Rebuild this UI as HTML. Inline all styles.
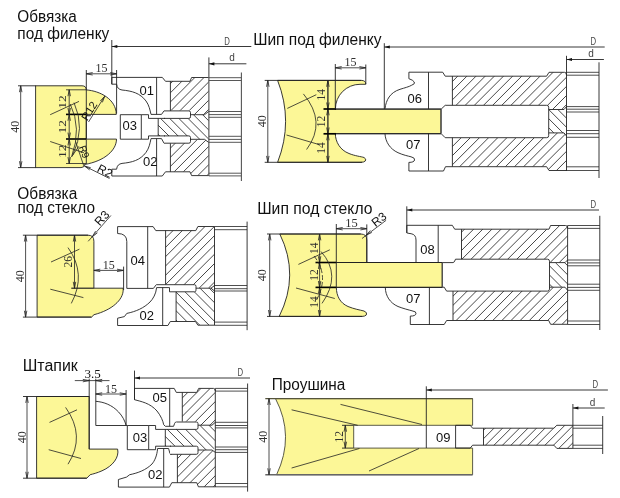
<!DOCTYPE html>
<html lang="ru">
<head>
<meta charset="utf-8">
<title>Комплект фрез</title>
<style>
html,body{margin:0;padding:0;background:#fff;}
body{width:620px;height:498px;overflow:hidden;font-family:"Liberation Sans",sans-serif;}
svg{display:block;will-change:transform;}
</style>
</head>
<body>
<svg width="620" height="498" viewBox="0 0 620 498">
<defs>
</defs>
<rect x="0" y="0" width="620" height="498" fill="#fff"/>
<text x="17.3" y="21.6" font-family="&quot;Liberation Sans&quot;, sans-serif" font-size="15.6" text-anchor="start" fill="#111" textLength="59.5" lengthAdjust="spacingAndGlyphs">Обвязка</text>
<text x="17.3" y="38.8" font-family="&quot;Liberation Sans&quot;, sans-serif" font-size="15.6" text-anchor="start" fill="#111" textLength="92" lengthAdjust="spacingAndGlyphs">под филенку</text>
<text x="253.2" y="45.2" font-family="&quot;Liberation Sans&quot;, sans-serif" font-size="15.6" text-anchor="start" fill="#111" textLength="128.3" lengthAdjust="spacingAndGlyphs">Шип под филенку</text>
<text x="17.3" y="199.4" font-family="&quot;Liberation Sans&quot;, sans-serif" font-size="15.6" text-anchor="start" fill="#111" textLength="60" lengthAdjust="spacingAndGlyphs">Обвязка</text>
<text x="17.4" y="213" font-family="&quot;Liberation Sans&quot;, sans-serif" font-size="15.6" text-anchor="start" fill="#111" textLength="77.6" lengthAdjust="spacingAndGlyphs">под стекло</text>
<text x="257.2" y="213.8" font-family="&quot;Liberation Sans&quot;, sans-serif" font-size="15.6" text-anchor="start" fill="#111" textLength="115.3" lengthAdjust="spacingAndGlyphs">Шип под стекло</text>
<text x="22.7" y="371.3" font-family="&quot;Liberation Sans&quot;, sans-serif" font-size="15.6" text-anchor="start" fill="#111" textLength="55.1" lengthAdjust="spacingAndGlyphs">Штапик</text>
<text x="271.7" y="390.3" font-family="&quot;Liberation Sans&quot;, sans-serif" font-size="15.6" text-anchor="start" fill="#111" textLength="73.7" lengthAdjust="spacingAndGlyphs">Проушина</text>
<path d="M35.6,85.8 H82 Q86.3,85.8 86.3,89.9 C100,91 116,99 116.3,114.4 H86.3 V139.1 H116.5 C116.5,150 105,161 84.5,164.5 Q84.5,167.6 81,167.6 H35.6 Z" fill="#fcf797" stroke="#222" stroke-width="0.9" />
<line x1="18" y1="85.8" x2="36" y2="85.8" stroke="#222" stroke-width="0.9"/>
<line x1="18" y1="167.6" x2="36" y2="167.6" stroke="#222" stroke-width="0.9"/>
<line x1="20.7" y1="85.8" x2="20.7" y2="167.6" stroke="#222" stroke-width="0.8"/>
<line x1="20.7" y1="85.8" x2="21.94" y2="92.18" stroke="#222" stroke-width="0.8"/>
<line x1="20.7" y1="85.8" x2="19.46" y2="92.18" stroke="#222" stroke-width="0.8"/>
<line x1="20.7" y1="167.6" x2="19.46" y2="161.22" stroke="#222" stroke-width="0.8"/>
<line x1="20.7" y1="167.6" x2="21.94" y2="161.22" stroke="#222" stroke-width="0.8"/>
<text x="19.3" y="126.69999999999999" font-family="&quot;Liberation Serif&quot;, serif" font-size="12" text-anchor="middle" fill="#303030" transform="rotate(-90 19.3 126.69999999999999)" >40</text>
<line x1="86.3" y1="70" x2="86.3" y2="164" stroke="#222" stroke-width="0.9"/>
<line x1="66" y1="89.8" x2="86" y2="89.8" stroke="#222" stroke-width="0.8"/>
<line x1="66" y1="114.4" x2="86" y2="114.4" stroke="#000" stroke-width="1.6"/>
<line x1="66" y1="139" x2="86" y2="139" stroke="#000" stroke-width="1.6"/>
<line x1="66" y1="163.5" x2="86" y2="163.5" stroke="#222" stroke-width="0.8"/>
<line x1="69.2" y1="89.8" x2="69.2" y2="114.4" stroke="#222" stroke-width="0.8"/>
<line x1="69.2" y1="89.8" x2="70.44" y2="96.18" stroke="#222" stroke-width="0.8"/>
<line x1="69.2" y1="89.8" x2="67.96" y2="96.18" stroke="#222" stroke-width="0.8"/>
<line x1="69.2" y1="114.4" x2="67.96" y2="108.02" stroke="#222" stroke-width="0.8"/>
<line x1="69.2" y1="114.4" x2="70.44" y2="108.02" stroke="#222" stroke-width="0.8"/>
<text x="66.3" y="102.1" font-family="&quot;Liberation Serif&quot;, serif" font-size="10.5" text-anchor="middle" fill="#303030" transform="rotate(-90 66.3 102.1)" textLength="13.5" lengthAdjust="spacingAndGlyphs">12</text>
<line x1="69.2" y1="114.4" x2="69.2" y2="139" stroke="#222" stroke-width="0.8"/>
<line x1="69.2" y1="114.4" x2="70.44" y2="120.78" stroke="#222" stroke-width="0.8"/>
<line x1="69.2" y1="114.4" x2="67.96" y2="120.78" stroke="#222" stroke-width="0.8"/>
<line x1="69.2" y1="139" x2="67.96" y2="132.62" stroke="#222" stroke-width="0.8"/>
<line x1="69.2" y1="139" x2="70.44" y2="132.62" stroke="#222" stroke-width="0.8"/>
<text x="66.3" y="126.7" font-family="&quot;Liberation Serif&quot;, serif" font-size="10.5" text-anchor="middle" fill="#303030" transform="rotate(-90 66.3 126.7)" textLength="13.5" lengthAdjust="spacingAndGlyphs">12</text>
<line x1="69.2" y1="139" x2="69.2" y2="163.5" stroke="#222" stroke-width="0.8"/>
<line x1="69.2" y1="139" x2="70.44" y2="145.38" stroke="#222" stroke-width="0.8"/>
<line x1="69.2" y1="139" x2="67.96" y2="145.38" stroke="#222" stroke-width="0.8"/>
<line x1="69.2" y1="163.5" x2="67.96" y2="157.12" stroke="#222" stroke-width="0.8"/>
<line x1="69.2" y1="163.5" x2="70.44" y2="157.12" stroke="#222" stroke-width="0.8"/>
<text x="66.3" y="151.25" font-family="&quot;Liberation Serif&quot;, serif" font-size="10.5" text-anchor="middle" fill="#303030" transform="rotate(-90 66.3 151.25)" textLength="13.5" lengthAdjust="spacingAndGlyphs">12</text>
<line x1="50.2" y1="114.7" x2="79" y2="101.4" stroke="#222" stroke-width="0.8"/>
<line x1="50.2" y1="141.5" x2="84" y2="152.8" stroke="#222" stroke-width="0.8"/>
<path d="M74,102.6 Q85.6,128 72.7,155.3" fill="none" stroke="#222" stroke-width="0.8" />
<path d="M70.2,104 Q82,128 71.6,156.8" fill="none" stroke="#222" stroke-width="0.8" />
<line x1="88.5" y1="122" x2="104.7" y2="96.3" stroke="#222" stroke-width="0.8"/>
<line x1="104.7" y1="96.3" x2="102.35" y2="102.36" stroke="#222" stroke-width="0.8"/>
<line x1="104.7" y1="96.3" x2="100.25" y2="101.04" stroke="#222" stroke-width="0.8"/>
<text x="92.5" y="113" font-family="&quot;Liberation Sans&quot;, sans-serif" font-size="11" text-anchor="middle" fill="#111" transform="rotate(-58 92.5 113)" >R12</text>
<line x1="83.7" y1="165.6" x2="75.6" y2="141.5" stroke="#222" stroke-width="0.8"/>
<line x1="71.6" y1="156.8" x2="78.9" y2="146.3" stroke="#222" stroke-width="0.8"/>
<text x="81" y="153" font-family="&quot;Liberation Sans&quot;, sans-serif" font-size="10" text-anchor="middle" fill="#111" transform="rotate(70 81 153)" >R9</text>
<line x1="84.5" y1="166" x2="109.5" y2="178.5" stroke="#222" stroke-width="0.8"/>
<line x1="84.5" y1="166" x2="90.76" y2="167.74" stroke="#222" stroke-width="0.8"/>
<line x1="84.5" y1="166" x2="89.66" y2="169.96" stroke="#222" stroke-width="0.8"/>
<text x="103" y="174.5" font-family="&quot;Liberation Sans&quot;, sans-serif" font-size="12" text-anchor="middle" fill="#111" transform="rotate(28 103 174.5)" >R2</text>
<line x1="116.6" y1="70" x2="116.6" y2="113.5" stroke="#222" stroke-width="0.9"/>
<line x1="86.3" y1="73.8" x2="116.6" y2="73.8" stroke="#222" stroke-width="0.8"/>
<line x1="86.3" y1="73.8" x2="92.68" y2="72.56" stroke="#222" stroke-width="0.8"/>
<line x1="86.3" y1="73.8" x2="92.68" y2="75.04" stroke="#222" stroke-width="0.8"/>
<line x1="116.6" y1="73.8" x2="110.22" y2="75.04" stroke="#222" stroke-width="0.8"/>
<line x1="116.6" y1="73.8" x2="110.22" y2="72.56" stroke="#222" stroke-width="0.8"/>
<text x="101.44999999999999" y="71.6" font-family="&quot;Liberation Serif&quot;, serif" font-size="12" text-anchor="middle" fill="#303030" >15</text>
<line x1="111.8" y1="40" x2="111.8" y2="84.2" stroke="#222" stroke-width="0.9"/>
<line x1="111.8" y1="46.5" x2="251.3" y2="46.5" stroke="#222" stroke-width="0.9"/>
<polygon points="111.8,46.5 117.3,44.9 117.3,48.1" fill="#111" stroke="none" stroke-width="0.9"/>
<text x="227" y="45" font-family="&quot;Liberation Sans&quot;, sans-serif" font-size="10" text-anchor="middle" fill="#444" textLength="5.6" lengthAdjust="spacingAndGlyphs">D</text>
<clipPath id="c1"><polygon points="170.4,81.3 190,81.3 191.6,77.5 208.5,77.5 208.5,111.6 204.5,114.7 190,114.7 190,110.6 170.4,110.6"/></clipPath>
<g clip-path="url(#c1)" stroke="#262626" stroke-width="0.85">
<line x1="139.35" y1="114.7" x2="176.55" y2="77.5"/>
<line x1="148.5" y1="114.7" x2="185.7" y2="77.5"/>
<line x1="157.65" y1="114.7" x2="194.85" y2="77.5"/>
<line x1="166.8" y1="114.7" x2="204.0" y2="77.5"/>
<line x1="175.95" y1="114.7" x2="213.15" y2="77.5"/>
<line x1="185.1" y1="114.7" x2="222.3" y2="77.5"/>
<line x1="194.25" y1="114.7" x2="231.45" y2="77.5"/>
<line x1="203.4" y1="114.7" x2="240.6" y2="77.5"/>
<line x1="212.55" y1="114.7" x2="249.75" y2="77.5"/>
</g>
<clipPath id="c2"><polygon points="158.2,118.4 190,118.4 190,114.7 204.5,114.7 208.5,113 208.5,141 204.5,139.5 190,139.5 190,135.9 158.2,135.9"/></clipPath>
<g clip-path="url(#c2)" stroke="#262626" stroke-width="0.85">
<line x1="127.7" y1="113" x2="155.7" y2="141"/>
<line x1="136.85" y1="113" x2="164.85" y2="141"/>
<line x1="146.0" y1="113" x2="174.0" y2="141"/>
<line x1="155.15" y1="113" x2="183.15" y2="141"/>
<line x1="164.3" y1="113" x2="192.3" y2="141"/>
<line x1="173.45" y1="113" x2="201.45" y2="141"/>
<line x1="182.6" y1="113" x2="210.6" y2="141"/>
<line x1="191.75" y1="113" x2="219.75" y2="141"/>
<line x1="200.9" y1="113" x2="228.9" y2="141"/>
<line x1="210.05" y1="113" x2="238.05" y2="141"/>
</g>
<clipPath id="c3"><polygon points="170.4,143 190,143 190,139.5 204.5,139.5 208.5,142.3 208.5,175.5 191.6,175.5 190,171.6 170.4,171.6"/></clipPath>
<g clip-path="url(#c3)" stroke="#262626" stroke-width="0.85">
<line x1="133.85" y1="175.5" x2="169.85" y2="139.5"/>
<line x1="143.0" y1="175.5" x2="179.0" y2="139.5"/>
<line x1="152.15" y1="175.5" x2="188.15" y2="139.5"/>
<line x1="161.3" y1="175.5" x2="197.3" y2="139.5"/>
<line x1="170.45" y1="175.5" x2="206.45" y2="139.5"/>
<line x1="179.6" y1="175.5" x2="215.6" y2="139.5"/>
<line x1="188.75" y1="175.5" x2="224.75" y2="139.5"/>
<line x1="197.9" y1="175.5" x2="233.9" y2="139.5"/>
<line x1="207.05" y1="175.5" x2="243.05" y2="139.5"/>
<line x1="216.2" y1="175.5" x2="252.2" y2="139.5"/>
</g>
<path d="M111.8,84.2 V77.4 H162.3 L165.5,81.3 H190 L191.6,77.5 H208.5" fill="none" stroke="#222" stroke-width="0.9" />
<path d="M111.8,84.2 H116.6 C117,88 119,89.5 122,90 C132,91 140,93 146,101 C149,105 150,110 151,114.4 H161.5 L164,110.9" fill="none" stroke="#222" stroke-width="0.9" />
<line x1="156.6" y1="77.4" x2="156.6" y2="114.4" stroke="#222" stroke-width="0.9"/>
<line x1="170.4" y1="81.3" x2="170.4" y2="110.9" stroke="#222" stroke-width="0.9"/>
<path d="M111.8,169.2 V176 H162.3 L165.5,171.8 H190 L191.6,175.6 H208.5" fill="none" stroke="#222" stroke-width="0.9" />
<path d="M111.8,169.2 H116.6 C117,165.4 119,163.9 122,163.4 C132,162.4 140,160.4 146,152.4 C149,148.4 150,143.4 151,138.6 H161.5 L164,143.2" fill="none" stroke="#222" stroke-width="0.9" />
<line x1="156.6" y1="138.6" x2="156.6" y2="176" stroke="#222" stroke-width="0.9"/>
<line x1="170.4" y1="143.2" x2="170.4" y2="171.8" stroke="#222" stroke-width="0.9"/>
<path d="M164,110.9 H188.9 Q190.5,110.9 190.5,112.5 V116.80000000000001 Q190.5,118.4 188.9,118.4 H164" fill="#fff" stroke="#222" stroke-width="0.9" />
<path d="M164,135.9 H188.9 Q190.5,135.9 190.5,137.5 V141.6 Q190.5,143.2 188.9,143.2 H164" fill="#fff" stroke="#222" stroke-width="0.9" />
<path d="M120.3,114.7 H141.3 V139.2 H120.3 Z" fill="none" stroke="#222" stroke-width="0.9" />
<path d="M141.3,114.7 H148.5 V118.4 H165" fill="none" stroke="#222" stroke-width="0.9" />
<path d="M141.3,139.2 H148.5 V135.9 H165" fill="none" stroke="#222" stroke-width="0.9" />
<line x1="158.2" y1="118.4" x2="158.2" y2="135.9" stroke="#222" stroke-width="0.9"/>
<line x1="190.5" y1="114.7" x2="204.5" y2="114.7" stroke="#222" stroke-width="0.9"/>
<line x1="204.5" y1="114.7" x2="208.5" y2="111.6" stroke="#222" stroke-width="0.9"/>
<line x1="190.5" y1="139.3" x2="204.5" y2="139.3" stroke="#222" stroke-width="0.9"/>
<line x1="204.5" y1="139.3" x2="208.5" y2="142.3" stroke="#222" stroke-width="0.9"/>
<line x1="208.9" y1="57.4" x2="208.9" y2="176" stroke="#222" stroke-width="0.9"/>
<line x1="208.9" y1="77.7" x2="241.4" y2="77.7" stroke="#444" stroke-width="0.9"/>
<line x1="208.9" y1="80.5" x2="241.4" y2="80.5" stroke="#444" stroke-width="0.9"/>
<line x1="208.9" y1="111.5" x2="241.4" y2="111.5" stroke="#444" stroke-width="0.9"/>
<line x1="208.9" y1="114.6" x2="241.4" y2="114.6" stroke="#444" stroke-width="0.9"/>
<line x1="208.9" y1="117.3" x2="241.4" y2="117.3" stroke="#444" stroke-width="0.9"/>
<line x1="208.9" y1="136.3" x2="241.4" y2="136.3" stroke="#444" stroke-width="0.9"/>
<line x1="208.9" y1="139.4" x2="241.4" y2="139.4" stroke="#444" stroke-width="0.9"/>
<line x1="208.9" y1="142.3" x2="241.4" y2="142.3" stroke="#444" stroke-width="0.9"/>
<line x1="208.9" y1="173.2" x2="241.4" y2="173.2" stroke="#444" stroke-width="0.9"/>
<line x1="208.9" y1="175.9" x2="241.4" y2="175.9" stroke="#444" stroke-width="0.9"/>
<line x1="241.4" y1="72.6" x2="241.4" y2="181" stroke="#555" stroke-width="1.1"/>
<line x1="208.9" y1="63.8" x2="246.4" y2="63.8" stroke="#222" stroke-width="0.9"/>
<polygon points="208.9,63.8 214.4,62.2 214.4,65.4" fill="#111" stroke="none" stroke-width="0.9"/>
<text x="232" y="60.8" font-family="&quot;Liberation Sans&quot;, sans-serif" font-size="10" text-anchor="middle" fill="#444" >d</text>
<text x="139.5" y="94.8" font-family="&quot;Liberation Sans&quot;, sans-serif" font-size="13" text-anchor="start" fill="#111" >01</text>
<text x="122.5" y="130.3" font-family="&quot;Liberation Sans&quot;, sans-serif" font-size="13" text-anchor="start" fill="#111" >03</text>
<text x="143" y="166" font-family="&quot;Liberation Sans&quot;, sans-serif" font-size="13" text-anchor="start" fill="#111" >02</text>
<path d="M277.6,80.4 H361.3 Q365.8,80.4 365.8,84.3 H360 A24.6,24.6 0 0 0 335.4,108.9 V109.2 H441.1 V133.6 H335.3 C335.5,142 340,150 349,153.5 C355,156 361,156.5 364,157.5 Q366.8,159 365.3,161 Q364,162.3 361,162.3 H277.6 Q293.6,121.3 277.6,80.4 Z" fill="#fcf797" stroke="#222" stroke-width="0.9" />
<line x1="264.7" y1="80.4" x2="361.3" y2="80.4" stroke="#222" stroke-width="0.9"/>
<line x1="264.7" y1="162.3" x2="362" y2="162.3" stroke="#222" stroke-width="0.9"/>
<line x1="267.8" y1="80.4" x2="267.8" y2="162.3" stroke="#222" stroke-width="0.8"/>
<line x1="267.8" y1="80.4" x2="269.04" y2="86.78" stroke="#222" stroke-width="0.8"/>
<line x1="267.8" y1="80.4" x2="266.56" y2="86.78" stroke="#222" stroke-width="0.8"/>
<line x1="267.8" y1="162.3" x2="266.56" y2="155.92" stroke="#222" stroke-width="0.8"/>
<line x1="267.8" y1="162.3" x2="269.04" y2="155.92" stroke="#222" stroke-width="0.8"/>
<text x="266.5" y="121.35000000000001" font-family="&quot;Liberation Serif&quot;, serif" font-size="12" text-anchor="middle" fill="#303030" transform="rotate(-90 266.5 121.35000000000001)" >40</text>
<line x1="327.9" y1="80.4" x2="327.9" y2="162.3" stroke="#222" stroke-width="0.8"/>
<line x1="327.9" y1="80.4" x2="327.9" y2="108.9" stroke="#222" stroke-width="0.8"/>
<line x1="327.9" y1="80.4" x2="329.14" y2="86.78" stroke="#222" stroke-width="0.8"/>
<line x1="327.9" y1="80.4" x2="326.66" y2="86.78" stroke="#222" stroke-width="0.8"/>
<line x1="327.9" y1="108.9" x2="326.66" y2="102.52" stroke="#222" stroke-width="0.8"/>
<line x1="327.9" y1="108.9" x2="329.14" y2="102.52" stroke="#222" stroke-width="0.8"/>
<text x="325" y="94.65" font-family="&quot;Liberation Serif&quot;, serif" font-size="11.5" text-anchor="middle" fill="#303030" transform="rotate(-90 325 94.65)" >14</text>
<line x1="327.9" y1="108.9" x2="327.9" y2="133.9" stroke="#222" stroke-width="0.8"/>
<line x1="327.9" y1="108.9" x2="329.14" y2="115.28" stroke="#222" stroke-width="0.8"/>
<line x1="327.9" y1="108.9" x2="326.66" y2="115.28" stroke="#222" stroke-width="0.8"/>
<line x1="327.9" y1="133.9" x2="326.66" y2="127.52" stroke="#222" stroke-width="0.8"/>
<line x1="327.9" y1="133.9" x2="329.14" y2="127.52" stroke="#222" stroke-width="0.8"/>
<text x="325" y="121.4" font-family="&quot;Liberation Serif&quot;, serif" font-size="11.5" text-anchor="middle" fill="#303030" transform="rotate(-90 325 121.4)" >12</text>
<line x1="327.9" y1="133.9" x2="327.9" y2="162.3" stroke="#222" stroke-width="0.8"/>
<line x1="327.9" y1="133.9" x2="329.14" y2="140.28" stroke="#222" stroke-width="0.8"/>
<line x1="327.9" y1="133.9" x2="326.66" y2="140.28" stroke="#222" stroke-width="0.8"/>
<line x1="327.9" y1="162.3" x2="326.66" y2="155.92" stroke="#222" stroke-width="0.8"/>
<line x1="327.9" y1="162.3" x2="329.14" y2="155.92" stroke="#222" stroke-width="0.8"/>
<text x="325" y="148.10000000000002" font-family="&quot;Liberation Serif&quot;, serif" font-size="11.5" text-anchor="middle" fill="#303030" transform="rotate(-90 325 148.10000000000002)" >14</text>
<line x1="335" y1="109" x2="441.1" y2="109" stroke="#222" stroke-width="1.0"/>
<line x1="323.5" y1="109" x2="336" y2="109" stroke="#000" stroke-width="1.7"/>
<line x1="335" y1="133.8" x2="441.1" y2="133.8" stroke="#222" stroke-width="1.0"/>
<line x1="323.5" y1="133.8" x2="336" y2="133.8" stroke="#000" stroke-width="1.7"/>
<line x1="335.3" y1="64" x2="335.3" y2="108.9" stroke="#222" stroke-width="0.9"/>
<line x1="365.8" y1="64.5" x2="365.8" y2="84" stroke="#222" stroke-width="0.9"/>
<line x1="335.3" y1="67.8" x2="365.8" y2="67.8" stroke="#222" stroke-width="0.8"/>
<line x1="335.3" y1="67.8" x2="341.68" y2="66.56" stroke="#222" stroke-width="0.8"/>
<line x1="335.3" y1="67.8" x2="341.68" y2="69.04" stroke="#222" stroke-width="0.8"/>
<line x1="365.8" y1="67.8" x2="359.42" y2="69.04" stroke="#222" stroke-width="0.8"/>
<line x1="365.8" y1="67.8" x2="359.42" y2="66.56" stroke="#222" stroke-width="0.8"/>
<text x="350.55" y="66" font-family="&quot;Liberation Serif&quot;, serif" font-size="12" text-anchor="middle" fill="#303030" >15</text>
<line x1="287.3" y1="108.4" x2="316.3" y2="94.7" stroke="#222" stroke-width="0.8"/>
<line x1="286.5" y1="135" x2="319.5" y2="144.7" stroke="#222" stroke-width="0.8"/>
<path d="M303.4,93.9 Q327,122 306.6,149.5" fill="none" stroke="#222" stroke-width="0.8" />
<line x1="384.3" y1="43.2" x2="384.3" y2="109" stroke="#222" stroke-width="0.9"/>
<line x1="384.3" y1="47" x2="604.7" y2="47" stroke="#222" stroke-width="0.9"/>
<polygon points="384.3,47 389.8,45.4 389.8,48.6" fill="#111" stroke="none" stroke-width="0.9"/>
<text x="593.4" y="44.5" font-family="&quot;Liberation Sans&quot;, sans-serif" font-size="10" text-anchor="middle" fill="#444" textLength="5.6" lengthAdjust="spacingAndGlyphs">D</text>
<clipPath id="c4"><polygon points="452.4,76.2 546.6,76.2 549,72.3 566.5,72.3 566.5,106.6 564,109.5 548.7,109.5 548.7,105.3 452.4,105.3"/></clipPath>
<g clip-path="url(#c4)" stroke="#262626" stroke-width="0.85">
<line x1="415.25" y1="109.5" x2="452.45" y2="72.3"/>
<line x1="424.4" y1="109.5" x2="461.6" y2="72.3"/>
<line x1="433.55" y1="109.5" x2="470.75" y2="72.3"/>
<line x1="442.7" y1="109.5" x2="479.9" y2="72.3"/>
<line x1="451.85" y1="109.5" x2="489.05" y2="72.3"/>
<line x1="461.0" y1="109.5" x2="498.2" y2="72.3"/>
<line x1="470.15" y1="109.5" x2="507.35" y2="72.3"/>
<line x1="479.3" y1="109.5" x2="516.5" y2="72.3"/>
<line x1="488.45" y1="109.5" x2="525.65" y2="72.3"/>
<line x1="497.6" y1="109.5" x2="534.8" y2="72.3"/>
<line x1="506.75" y1="109.5" x2="543.95" y2="72.3"/>
<line x1="515.9" y1="109.5" x2="553.1" y2="72.3"/>
<line x1="525.05" y1="109.5" x2="562.25" y2="72.3"/>
<line x1="534.2" y1="109.5" x2="571.4" y2="72.3"/>
<line x1="543.35" y1="109.5" x2="580.55" y2="72.3"/>
<line x1="552.5" y1="109.5" x2="589.7" y2="72.3"/>
<line x1="561.65" y1="109.5" x2="598.85" y2="72.3"/>
<line x1="570.8" y1="109.5" x2="608.0" y2="72.3"/>
</g>
<clipPath id="c5"><polygon points="548.7,109.5 564,109.5 566.5,111 566.5,131.5 564,132.9 548.7,132.9"/></clipPath>
<g clip-path="url(#c5)" stroke="#262626" stroke-width="0.85">
<line x1="521.25" y1="109.5" x2="544.65" y2="132.9"/>
<line x1="530.4" y1="109.5" x2="553.8" y2="132.9"/>
<line x1="539.55" y1="109.5" x2="562.95" y2="132.9"/>
<line x1="548.7" y1="109.5" x2="572.1" y2="132.9"/>
<line x1="557.85" y1="109.5" x2="581.25" y2="132.9"/>
<line x1="567.0" y1="109.5" x2="590.4" y2="132.9"/>
</g>
<clipPath id="c6"><polygon points="452.4,137.7 548.7,137.7 548.7,132.9 564,132.9 566.5,136 566.5,170.5 549,170.5 546.6,166.6 452.4,166.6"/></clipPath>
<g clip-path="url(#c6)" stroke="#262626" stroke-width="0.85">
<line x1="410.05" y1="170.5" x2="447.65" y2="132.9"/>
<line x1="419.2" y1="170.5" x2="456.8" y2="132.9"/>
<line x1="428.35" y1="170.5" x2="465.95" y2="132.9"/>
<line x1="437.5" y1="170.5" x2="475.1" y2="132.9"/>
<line x1="446.65" y1="170.5" x2="484.25" y2="132.9"/>
<line x1="455.8" y1="170.5" x2="493.4" y2="132.9"/>
<line x1="464.95" y1="170.5" x2="502.55" y2="132.9"/>
<line x1="474.1" y1="170.5" x2="511.7" y2="132.9"/>
<line x1="483.25" y1="170.5" x2="520.85" y2="132.9"/>
<line x1="492.4" y1="170.5" x2="530.0" y2="132.9"/>
<line x1="501.55" y1="170.5" x2="539.15" y2="132.9"/>
<line x1="510.7" y1="170.5" x2="548.3" y2="132.9"/>
<line x1="519.85" y1="170.5" x2="557.45" y2="132.9"/>
<line x1="529.0" y1="170.5" x2="566.6" y2="132.9"/>
<line x1="538.15" y1="170.5" x2="575.75" y2="132.9"/>
<line x1="547.3" y1="170.5" x2="584.9" y2="132.9"/>
<line x1="556.45" y1="170.5" x2="594.05" y2="132.9"/>
<line x1="565.6" y1="170.5" x2="603.2" y2="132.9"/>
<line x1="574.75" y1="170.5" x2="612.35" y2="132.9"/>
</g>
<path d="M385,108.8 C386,100 390,92.5 400,89.3 C405,87.8 409,86.7 411.3,85.4 Q415.5,84 414.3,82 Q413,80 408.9,78.7 V72.2 H442.7 L445.2,76.2 H546.6 L549,72.3 H564.5 Q566.5,72.3 566.5,75" fill="none" stroke="#222" stroke-width="0.9" />
<line x1="428.5" y1="72.2" x2="428.5" y2="109" stroke="#222" stroke-width="0.9"/>
<path d="M441.1,109.2 L445.2,105.3 H546.7 Q548.7,105.3 548.7,107.3 V135.7 Q548.7,137.7 546.7,137.7 H445.2 L441.1,133.6 Z" fill="#fff" stroke="#222" stroke-width="0.9" />
<line x1="441.1" y1="109.2" x2="441.1" y2="133.6" stroke="#555" stroke-width="0.9"/>
<line x1="452.4" y1="76.2" x2="452.4" y2="105.3" stroke="#222" stroke-width="0.9"/>
<line x1="452.4" y1="137.7" x2="452.4" y2="166.6" stroke="#222" stroke-width="0.9"/>
<line x1="548.7" y1="109.5" x2="564" y2="109.5" stroke="#222" stroke-width="0.9"/>
<line x1="564" y1="109.5" x2="566.5" y2="106.6" stroke="#222" stroke-width="0.9"/>
<line x1="548.7" y1="132.9" x2="564" y2="132.9" stroke="#222" stroke-width="0.9"/>
<line x1="564" y1="132.9" x2="566.5" y2="136" stroke="#222" stroke-width="0.9"/>
<path d="M385,133.9 C385.5,142 390,149 398,152.7 C403,155 408,156 411,156.8 Q415,157.6 414.6,160 Q414,162.4 408.9,162.4 V171 H443.5 L445.5,166.7 H546.6 L549,170.5 H566.5" fill="none" stroke="#222" stroke-width="0.9" />
<line x1="428.5" y1="133.6" x2="428.5" y2="171" stroke="#222" stroke-width="0.9"/>
<line x1="566.5" y1="55.8" x2="566.5" y2="171" stroke="#222" stroke-width="0.9"/>
<line x1="566.5" y1="72.3" x2="599" y2="72.3" stroke="#222" stroke-width="0.8"/>
<line x1="566.5" y1="75.2" x2="599" y2="75.2" stroke="#222" stroke-width="0.8"/>
<line x1="566.5" y1="106.6" x2="599" y2="106.6" stroke="#222" stroke-width="0.8"/>
<line x1="566.5" y1="109.2" x2="599" y2="109.2" stroke="#222" stroke-width="0.8"/>
<line x1="566.5" y1="112" x2="599" y2="112" stroke="#222" stroke-width="0.8"/>
<line x1="566.5" y1="130.5" x2="599" y2="130.5" stroke="#222" stroke-width="0.8"/>
<line x1="566.5" y1="133.7" x2="599" y2="133.7" stroke="#222" stroke-width="0.8"/>
<line x1="566.5" y1="137.3" x2="599" y2="137.3" stroke="#222" stroke-width="0.8"/>
<line x1="566.5" y1="166.8" x2="599" y2="166.8" stroke="#222" stroke-width="0.8"/>
<line x1="566.5" y1="170.5" x2="599" y2="170.5" stroke="#222" stroke-width="0.8"/>
<line x1="599" y1="62.3" x2="599" y2="178" stroke="#222" stroke-width="0.9"/>
<line x1="566.5" y1="59.5" x2="603.9" y2="59.5" stroke="#222" stroke-width="0.9"/>
<polygon points="566.5,59.5 572.0,57.9 572.0,61.1" fill="#111" stroke="none" stroke-width="0.9"/>
<text x="591" y="57" font-family="&quot;Liberation Sans&quot;, sans-serif" font-size="10" text-anchor="middle" fill="#444" >d</text>
<text x="407.5" y="103" font-family="&quot;Liberation Sans&quot;, sans-serif" font-size="13" text-anchor="start" fill="#111" >06</text>
<text x="406" y="148.7" font-family="&quot;Liberation Sans&quot;, sans-serif" font-size="13" text-anchor="start" fill="#111" >07</text>
<path d="M37.1,235.2 H88 Q93.9,235.2 93.9,241.2 V288.2 H123.2 V290 C123,300 112,310 94,314.7 L91.5,317.1 H37.1 Z" fill="#fcf797" stroke="#222" stroke-width="0.9" />
<line x1="22.9" y1="235.2" x2="88" y2="235.2" stroke="#222" stroke-width="0.9"/>
<line x1="22.9" y1="317.1" x2="91.5" y2="317.1" stroke="#222" stroke-width="0.9"/>
<line x1="25.6" y1="235.2" x2="25.6" y2="317.1" stroke="#222" stroke-width="0.8"/>
<line x1="25.6" y1="235.2" x2="26.84" y2="241.58" stroke="#222" stroke-width="0.8"/>
<line x1="25.6" y1="235.2" x2="24.36" y2="241.58" stroke="#222" stroke-width="0.8"/>
<line x1="25.6" y1="317.1" x2="24.36" y2="310.72" stroke="#222" stroke-width="0.8"/>
<line x1="25.6" y1="317.1" x2="26.84" y2="310.72" stroke="#222" stroke-width="0.8"/>
<text x="24.5" y="276.15" font-family="&quot;Liberation Serif&quot;, serif" font-size="12" text-anchor="middle" fill="#303030" transform="rotate(-90 24.5 276.15)" >40</text>
<line x1="74.5" y1="235.2" x2="74.5" y2="288.2" stroke="#222" stroke-width="0.8"/>
<line x1="74.5" y1="235.2" x2="75.74" y2="241.58" stroke="#222" stroke-width="0.8"/>
<line x1="74.5" y1="235.2" x2="73.26" y2="241.58" stroke="#222" stroke-width="0.8"/>
<line x1="74.5" y1="288.2" x2="73.26" y2="281.82" stroke="#222" stroke-width="0.8"/>
<line x1="74.5" y1="288.2" x2="75.74" y2="281.82" stroke="#222" stroke-width="0.8"/>
<text x="72.5" y="261.7" font-family="&quot;Liberation Serif&quot;, serif" font-size="11.5" text-anchor="middle" fill="#303030" transform="rotate(-90 72.5 261.7)" >26</text>
<line x1="71.3" y1="288.2" x2="93.9" y2="288.2" stroke="#222" stroke-width="1.2"/>
<line x1="51" y1="262" x2="79.4" y2="249.2" stroke="#222" stroke-width="0.8"/>
<line x1="50.3" y1="289.2" x2="83.4" y2="297.6" stroke="#222" stroke-width="0.8"/>
<path d="M68,247.6 Q87,274 71.3,303.4" fill="none" stroke="#222" stroke-width="0.8" />
<line x1="88.2" y1="241.3" x2="110.9" y2="215.5" stroke="#222" stroke-width="0.8"/>
<line x1="92.3" y1="236.8" x2="95.55" y2="231.17" stroke="#222" stroke-width="0.8"/>
<line x1="92.3" y1="236.8" x2="97.42" y2="232.8" stroke="#222" stroke-width="0.8"/>
<text x="105" y="220.8" font-family="&quot;Liberation Sans&quot;, sans-serif" font-size="12" text-anchor="middle" fill="#111" transform="rotate(-48 105 220.8)" >R3</text>
<line x1="123.6" y1="266.6" x2="123.6" y2="290" stroke="#222" stroke-width="0.9"/>
<line x1="93.9" y1="270.4" x2="123.4" y2="270.4" stroke="#222" stroke-width="0.8"/>
<line x1="93.9" y1="270.4" x2="100.28" y2="269.16" stroke="#222" stroke-width="0.8"/>
<line x1="93.9" y1="270.4" x2="100.28" y2="271.64" stroke="#222" stroke-width="0.8"/>
<line x1="123.4" y1="270.4" x2="117.02" y2="271.64" stroke="#222" stroke-width="0.8"/>
<line x1="123.4" y1="270.4" x2="117.02" y2="269.16" stroke="#222" stroke-width="0.8"/>
<text x="108.65" y="268.5" font-family="&quot;Liberation Serif&quot;, serif" font-size="12" text-anchor="middle" fill="#303030" >15</text>
<clipPath id="c7"><polygon points="165.6,230.5 195.8,230.5 197.9,226.5 214.5,226.5 214.5,285.5 211,288.2 195.5,288.2 195.5,284.7 165.6,284.7"/></clipPath>
<g clip-path="url(#c7)" stroke="#262626" stroke-width="0.85">
<line x1="106.1" y1="288.2" x2="167.8" y2="226.5"/>
<line x1="115.4" y1="288.2" x2="177.1" y2="226.5"/>
<line x1="124.7" y1="288.2" x2="186.4" y2="226.5"/>
<line x1="134.0" y1="288.2" x2="195.7" y2="226.5"/>
<line x1="143.3" y1="288.2" x2="205.0" y2="226.5"/>
<line x1="152.6" y1="288.2" x2="214.3" y2="226.5"/>
<line x1="161.9" y1="288.2" x2="223.6" y2="226.5"/>
<line x1="171.2" y1="288.2" x2="232.9" y2="226.5"/>
<line x1="180.5" y1="288.2" x2="242.2" y2="226.5"/>
<line x1="189.8" y1="288.2" x2="251.5" y2="226.5"/>
<line x1="199.1" y1="288.2" x2="260.8" y2="226.5"/>
<line x1="208.4" y1="288.2" x2="270.1" y2="226.5"/>
<line x1="217.7" y1="288.2" x2="279.4" y2="226.5"/>
</g>
<clipPath id="c8"><polygon points="176.1,291.8 195.5,291.8 195.5,288.2 211,288.2 214.5,291 214.5,325.2 197.9,325.2 195.5,321.4 176.1,321.4"/></clipPath>
<g clip-path="url(#c8)" stroke="#262626" stroke-width="0.85">
<line x1="134.9" y1="288.2" x2="171.9" y2="325.2"/>
<line x1="144.2" y1="288.2" x2="181.2" y2="325.2"/>
<line x1="153.5" y1="288.2" x2="190.5" y2="325.2"/>
<line x1="162.8" y1="288.2" x2="199.8" y2="325.2"/>
<line x1="172.1" y1="288.2" x2="209.1" y2="325.2"/>
<line x1="181.4" y1="288.2" x2="218.4" y2="325.2"/>
<line x1="190.7" y1="288.2" x2="227.7" y2="325.2"/>
<line x1="200.0" y1="288.2" x2="237.0" y2="325.2"/>
<line x1="209.3" y1="288.2" x2="246.3" y2="325.2"/>
<line x1="218.6" y1="288.2" x2="255.6" y2="325.2"/>
</g>
<path d="M117.6,226.6 V233.5 Q126.8,233.5 126.8,241.6 V288.4 H153.4 L156.3,284.7" fill="none" stroke="#222" stroke-width="0.9" />
<path d="M117.6,226.6 H153.1 L155.8,230.6 H195.8 L197.9,226.5 H214.5" fill="none" stroke="#222" stroke-width="0.9" />
<line x1="147.7" y1="226.6" x2="147.7" y2="288.4" stroke="#222" stroke-width="0.9"/>
<line x1="165.6" y1="230.5" x2="165.6" y2="284.7" stroke="#222" stroke-width="0.9"/>
<path d="M156.3,284.7 H194.4 Q196,284.7 196,286.3 V290.2 Q196,291.8 194.4,291.8 H169.5 V287.6 H156.6 Z" fill="#fff" stroke="none" stroke-width="0.9" />
<path d="M156.3,284.7 H194.4 Q196,284.7 196,286.3 V290.2 Q196,291.8 194.4,291.8 H169.5 V287.6 H156.6" fill="none" stroke="#222" stroke-width="0.9" />
<line x1="196" y1="288.2" x2="211" y2="288.2" stroke="#222" stroke-width="0.9"/>
<line x1="211" y1="288.2" x2="214.5" y2="285.5" stroke="#222" stroke-width="0.9"/>
<line x1="211" y1="288.2" x2="214.5" y2="291" stroke="#222" stroke-width="0.9"/>
<path d="M156.6,287.6 C156,294 153,299 150,302 C144,308 136,311.5 126.8,313.4 L124.4,316.6 L117.6,318.2 V325.5 H167.9 L170.3,321.5 H195.5 L197.9,325.2 H214.5" fill="none" stroke="#222" stroke-width="0.9" />
<line x1="162.7" y1="287.6" x2="162.7" y2="325.5" stroke="#222" stroke-width="0.9"/>
<line x1="176.1" y1="291.8" x2="176.1" y2="321.4" stroke="#222" stroke-width="0.9"/>
<line x1="214.5" y1="226.5" x2="214.5" y2="325.3" stroke="#222" stroke-width="0.9"/>
<line x1="214.5" y1="226.5" x2="247.1" y2="226.5" stroke="#222" stroke-width="0.8"/>
<line x1="214.5" y1="229.7" x2="247.1" y2="229.7" stroke="#222" stroke-width="0.8"/>
<line x1="214.5" y1="285.5" x2="247.1" y2="285.5" stroke="#222" stroke-width="0.8"/>
<line x1="214.5" y1="288.7" x2="247.1" y2="288.7" stroke="#222" stroke-width="0.8"/>
<line x1="214.5" y1="291" x2="247.1" y2="291" stroke="#222" stroke-width="0.8"/>
<line x1="214.5" y1="322.1" x2="247.1" y2="322.1" stroke="#222" stroke-width="0.8"/>
<line x1="214.5" y1="325.3" x2="247.1" y2="325.3" stroke="#222" stroke-width="0.8"/>
<line x1="247.1" y1="221.6" x2="247.1" y2="330.2" stroke="#222" stroke-width="0.9"/>
<text x="130.5" y="265" font-family="&quot;Liberation Sans&quot;, sans-serif" font-size="13" text-anchor="start" fill="#111" >04</text>
<text x="139.5" y="319.8" font-family="&quot;Liberation Sans&quot;, sans-serif" font-size="13" text-anchor="start" fill="#111" >02</text>
<path d="M279.8,234 H360.8 Q366.8,234 366.8,240 V262.5 H442.3 V287.3 H336.3 C336.5,296 340,303 348,306.5 C354,309 360,310 364,311 Q367.8,312.5 366.3,315 Q365,316.4 362,316.4 H279.2 Q299.9,275 279.8,234 Z" fill="#fcf797" stroke="#222" stroke-width="0.9" />
<line x1="267" y1="234" x2="360.8" y2="234" stroke="#222" stroke-width="0.9"/>
<line x1="267" y1="316.4" x2="362" y2="316.4" stroke="#222" stroke-width="0.9"/>
<line x1="269.7" y1="234" x2="269.7" y2="316.4" stroke="#222" stroke-width="0.8"/>
<line x1="269.7" y1="234" x2="270.94" y2="240.38" stroke="#222" stroke-width="0.8"/>
<line x1="269.7" y1="234" x2="268.46" y2="240.38" stroke="#222" stroke-width="0.8"/>
<line x1="269.7" y1="316.4" x2="268.46" y2="310.02" stroke="#222" stroke-width="0.8"/>
<line x1="269.7" y1="316.4" x2="270.94" y2="310.02" stroke="#222" stroke-width="0.8"/>
<text x="266" y="275.2" font-family="&quot;Liberation Serif&quot;, serif" font-size="12" text-anchor="middle" fill="#303030" transform="rotate(-90 266 275.2)" >40</text>
<line x1="319.6" y1="234" x2="319.6" y2="262.6" stroke="#222" stroke-width="0.8"/>
<line x1="319.6" y1="234" x2="320.84" y2="240.38" stroke="#222" stroke-width="0.8"/>
<line x1="319.6" y1="234" x2="318.36" y2="240.38" stroke="#222" stroke-width="0.8"/>
<line x1="319.6" y1="262.6" x2="318.36" y2="256.22" stroke="#222" stroke-width="0.8"/>
<line x1="319.6" y1="262.6" x2="320.84" y2="256.22" stroke="#222" stroke-width="0.8"/>
<text x="318" y="248.3" font-family="&quot;Liberation Serif&quot;, serif" font-size="11.5" text-anchor="middle" fill="#303030" transform="rotate(-90 318 248.3)" >14</text>
<line x1="319.6" y1="262.6" x2="319.6" y2="287.4" stroke="#222" stroke-width="0.8"/>
<line x1="319.6" y1="262.6" x2="320.84" y2="268.98" stroke="#222" stroke-width="0.8"/>
<line x1="319.6" y1="262.6" x2="318.36" y2="268.98" stroke="#222" stroke-width="0.8"/>
<line x1="319.6" y1="287.4" x2="318.36" y2="281.02" stroke="#222" stroke-width="0.8"/>
<line x1="319.6" y1="287.4" x2="320.84" y2="281.02" stroke="#222" stroke-width="0.8"/>
<text x="318" y="275.0" font-family="&quot;Liberation Serif&quot;, serif" font-size="11.5" text-anchor="middle" fill="#303030" transform="rotate(-90 318 275.0)" >12</text>
<line x1="319.6" y1="287.4" x2="319.6" y2="316.4" stroke="#222" stroke-width="0.8"/>
<line x1="319.6" y1="287.4" x2="320.84" y2="293.78" stroke="#222" stroke-width="0.8"/>
<line x1="319.6" y1="287.4" x2="318.36" y2="293.78" stroke="#222" stroke-width="0.8"/>
<line x1="319.6" y1="316.4" x2="318.36" y2="310.02" stroke="#222" stroke-width="0.8"/>
<line x1="319.6" y1="316.4" x2="320.84" y2="310.02" stroke="#222" stroke-width="0.8"/>
<text x="318" y="301.9" font-family="&quot;Liberation Serif&quot;, serif" font-size="11.5" text-anchor="middle" fill="#303030" transform="rotate(-90 318 301.9)" >14</text>
<line x1="316" y1="262.5" x2="442.3" y2="262.5" stroke="#222" stroke-width="1.0"/>
<line x1="315.5" y1="262.5" x2="336.3" y2="262.5" stroke="#000" stroke-width="1.6"/>
<line x1="316" y1="287.4" x2="442.3" y2="287.4" stroke="#222" stroke-width="1.0"/>
<line x1="315.5" y1="287.4" x2="336.3" y2="287.4" stroke="#000" stroke-width="1.6"/>
<line x1="336.3" y1="224" x2="336.3" y2="287.5" stroke="#222" stroke-width="0.9"/>
<line x1="366.8" y1="224.4" x2="366.8" y2="262.4" stroke="#222" stroke-width="0.9"/>
<line x1="336.3" y1="228.7" x2="366.8" y2="228.7" stroke="#222" stroke-width="0.8"/>
<line x1="336.3" y1="228.7" x2="342.68" y2="227.46" stroke="#222" stroke-width="0.8"/>
<line x1="336.3" y1="228.7" x2="342.68" y2="229.94" stroke="#222" stroke-width="0.8"/>
<line x1="366.8" y1="228.7" x2="360.42" y2="229.94" stroke="#222" stroke-width="0.8"/>
<line x1="366.8" y1="228.7" x2="360.42" y2="227.46" stroke="#222" stroke-width="0.8"/>
<text x="351.55" y="227" font-family="&quot;Liberation Serif&quot;, serif" font-size="12.5" text-anchor="middle" fill="#303030" >15</text>
<line x1="298.4" y1="264.4" x2="329.8" y2="249.8" stroke="#222" stroke-width="0.8"/>
<line x1="296" y1="288" x2="334.8" y2="298.5" stroke="#222" stroke-width="0.8"/>
<path d="M321,251.5 Q342,275 322,303.4" fill="none" stroke="#222" stroke-width="0.8" />
<path d="M314,256 Q330,276 316,301" fill="none" stroke="#222" stroke-width="0.8" stroke-dasharray="5 2"/>
<line x1="362" y1="238.5" x2="386.1" y2="220.3" stroke="#222" stroke-width="0.8"/>
<line x1="366" y1="235.3" x2="370.35" y2="230.47" stroke="#222" stroke-width="0.8"/>
<line x1="366" y1="235.3" x2="371.84" y2="232.45" stroke="#222" stroke-width="0.8"/>
<text x="381.5" y="222.5" font-family="&quot;Liberation Sans&quot;, sans-serif" font-size="12" text-anchor="middle" fill="#111" transform="rotate(-38 381.5 222.5)" >R3</text>
<line x1="406.8" y1="206.3" x2="406.8" y2="232.9" stroke="#222" stroke-width="0.9"/>
<line x1="406.8" y1="210" x2="599" y2="210" stroke="#222" stroke-width="0.9"/>
<polygon points="406.8,210 412.3,208.4 412.3,211.6" fill="#111" stroke="none" stroke-width="0.9"/>
<text x="593.4" y="207.6" font-family="&quot;Liberation Sans&quot;, sans-serif" font-size="10" text-anchor="middle" fill="#444" textLength="5.6" lengthAdjust="spacingAndGlyphs">D</text>
<clipPath id="c9"><polygon points="461.5,229.2 549,229.2 550.6,225.5 567.6,225.5 567.6,260 565,262.6 549.5,262.6 549.5,259.2 461.5,259.2"/></clipPath>
<g clip-path="url(#c9)" stroke="#262626" stroke-width="0.85">
<line x1="431.05" y1="262.6" x2="468.15" y2="225.5"/>
<line x1="440.2" y1="262.6" x2="477.3" y2="225.5"/>
<line x1="449.35" y1="262.6" x2="486.45" y2="225.5"/>
<line x1="458.5" y1="262.6" x2="495.6" y2="225.5"/>
<line x1="467.65" y1="262.6" x2="504.75" y2="225.5"/>
<line x1="476.8" y1="262.6" x2="513.9" y2="225.5"/>
<line x1="485.95" y1="262.6" x2="523.05" y2="225.5"/>
<line x1="495.1" y1="262.6" x2="532.2" y2="225.5"/>
<line x1="504.25" y1="262.6" x2="541.35" y2="225.5"/>
<line x1="513.4" y1="262.6" x2="550.5" y2="225.5"/>
<line x1="522.55" y1="262.6" x2="559.65" y2="225.5"/>
<line x1="531.7" y1="262.6" x2="568.8" y2="225.5"/>
<line x1="540.85" y1="262.6" x2="577.95" y2="225.5"/>
<line x1="550.0" y1="262.6" x2="587.1" y2="225.5"/>
<line x1="559.15" y1="262.6" x2="596.25" y2="225.5"/>
<line x1="568.3" y1="262.6" x2="605.4" y2="225.5"/>
</g>
<clipPath id="c10"><polygon points="549.5,262.6 565,262.6 567.6,264.5 567.6,285.5 565,287.2 549.5,287.2"/></clipPath>
<g clip-path="url(#c10)" stroke="#262626" stroke-width="0.85">
<line x1="518.8" y1="262.6" x2="543.4" y2="287.2"/>
<line x1="527.95" y1="262.6" x2="552.55" y2="287.2"/>
<line x1="537.1" y1="262.6" x2="561.7" y2="287.2"/>
<line x1="546.25" y1="262.6" x2="570.85" y2="287.2"/>
<line x1="555.4" y1="262.6" x2="580.0" y2="287.2"/>
<line x1="564.55" y1="262.6" x2="589.15" y2="287.2"/>
<line x1="573.7" y1="262.6" x2="598.3" y2="287.2"/>
</g>
<clipPath id="c11"><polygon points="453,291.1 549.5,291.1 549.5,287.2 565,287.2 567.6,290.3 567.6,324.3 550.6,324.3 548.7,320.3 453,320.3"/></clipPath>
<g clip-path="url(#c11)" stroke="#262626" stroke-width="0.85">
<line x1="415.7" y1="324.3" x2="452.8" y2="287.2"/>
<line x1="424.85" y1="324.3" x2="461.95" y2="287.2"/>
<line x1="434.0" y1="324.3" x2="471.1" y2="287.2"/>
<line x1="443.15" y1="324.3" x2="480.25" y2="287.2"/>
<line x1="452.3" y1="324.3" x2="489.4" y2="287.2"/>
<line x1="461.45" y1="324.3" x2="498.55" y2="287.2"/>
<line x1="470.6" y1="324.3" x2="507.7" y2="287.2"/>
<line x1="479.75" y1="324.3" x2="516.85" y2="287.2"/>
<line x1="488.9" y1="324.3" x2="526.0" y2="287.2"/>
<line x1="498.05" y1="324.3" x2="535.15" y2="287.2"/>
<line x1="507.2" y1="324.3" x2="544.3" y2="287.2"/>
<line x1="516.35" y1="324.3" x2="553.45" y2="287.2"/>
<line x1="525.5" y1="324.3" x2="562.6" y2="287.2"/>
<line x1="534.65" y1="324.3" x2="571.75" y2="287.2"/>
<line x1="543.8" y1="324.3" x2="580.9" y2="287.2"/>
<line x1="552.95" y1="324.3" x2="590.05" y2="287.2"/>
<line x1="562.1" y1="324.3" x2="599.2" y2="287.2"/>
<line x1="571.25" y1="324.3" x2="608.35" y2="287.2"/>
</g>
<path d="M406.8,232.9 V225.3 H452.3 L454.7,229.2 H549 L550.6,225.5 H565.5 Q567.6,225.5 567.6,228" fill="none" stroke="#222" stroke-width="0.9" />
<path d="M406.8,232.9 Q409,233.5 411.1,233.7 Q416,234.5 416,240 V262.6" fill="none" stroke="#222" stroke-width="0.9" />
<line x1="438.2" y1="225.3" x2="438.2" y2="262.6" stroke="#222" stroke-width="0.9"/>
<path d="M442.3,262.6 H453 Q454.5,262.6 455.5,259.2 H547.5 Q549.5,259.2 549.5,261.2 V289.1 Q549.5,291.1 547.5,291.1 H446.6 L444.2,287.2 H442.3 Z" fill="#fff" stroke="#222" stroke-width="0.9" />
<line x1="442.3" y1="262.6" x2="442.3" y2="287.2" stroke="#555" stroke-width="0.9"/>
<line x1="461.5" y1="229.2" x2="461.5" y2="259.2" stroke="#222" stroke-width="0.9"/>
<line x1="453" y1="291.1" x2="453" y2="320.3" stroke="#222" stroke-width="0.9"/>
<line x1="549.5" y1="262.6" x2="565" y2="262.6" stroke="#222" stroke-width="0.9"/>
<line x1="565" y1="262.6" x2="567.6" y2="260" stroke="#222" stroke-width="0.9"/>
<line x1="549.5" y1="287.2" x2="565" y2="287.2" stroke="#222" stroke-width="0.9"/>
<line x1="565" y1="287.2" x2="567.6" y2="290.3" stroke="#222" stroke-width="0.9"/>
<path d="M385.3,287.4 C385.5,296 390,303 398,306.5 C403,308.5 409,310 412,310.8 Q416.8,311.5 416,313.8 Q415.4,316.1 410.3,316.1 V324.5 H444.2 L446.6,320.5 H548.7 L550.6,324.3 H567.6" fill="none" stroke="#222" stroke-width="0.9" />
<line x1="429.4" y1="287.2" x2="429.4" y2="324.5" stroke="#222" stroke-width="0.9"/>
<line x1="567.6" y1="225.5" x2="567.6" y2="324.5" stroke="#222" stroke-width="0.9"/>
<line x1="567.6" y1="225.5" x2="599.8" y2="225.5" stroke="#222" stroke-width="0.8"/>
<line x1="567.6" y1="228.4" x2="599.8" y2="228.4" stroke="#222" stroke-width="0.8"/>
<line x1="567.6" y1="260" x2="599.8" y2="260" stroke="#222" stroke-width="0.8"/>
<line x1="567.6" y1="262.9" x2="599.8" y2="262.9" stroke="#222" stroke-width="0.8"/>
<line x1="567.6" y1="265.8" x2="599.8" y2="265.8" stroke="#222" stroke-width="0.8"/>
<line x1="567.6" y1="284.2" x2="599.8" y2="284.2" stroke="#222" stroke-width="0.8"/>
<line x1="567.6" y1="287.4" x2="599.8" y2="287.4" stroke="#222" stroke-width="0.8"/>
<line x1="567.6" y1="290.3" x2="599.8" y2="290.3" stroke="#222" stroke-width="0.8"/>
<line x1="567.6" y1="321" x2="599.8" y2="321" stroke="#222" stroke-width="0.8"/>
<line x1="567.6" y1="324.5" x2="599.8" y2="324.5" stroke="#222" stroke-width="0.8"/>
<line x1="599.8" y1="215.8" x2="599.8" y2="330" stroke="#222" stroke-width="0.9"/>
<text x="420.3" y="254" font-family="&quot;Liberation Sans&quot;, sans-serif" font-size="13" text-anchor="start" fill="#111" >08</text>
<text x="406" y="303.2" font-family="&quot;Liberation Sans&quot;, sans-serif" font-size="13" text-anchor="start" fill="#111" >07</text>
<path d="M36.6,396.5 H89.2 V449.1 H117.6 C119.5,457 113,466 102,470.8 C97,473 93,474 90.2,474.7 L86.8,478.2 H36.6 Z" fill="#fcf797" stroke="#222" stroke-width="0.9" />
<line x1="23" y1="396.5" x2="89.2" y2="396.5" stroke="#222" stroke-width="0.9"/>
<line x1="23" y1="478.2" x2="86.8" y2="478.2" stroke="#222" stroke-width="0.9"/>
<line x1="27" y1="396.5" x2="27" y2="478.2" stroke="#222" stroke-width="0.8"/>
<line x1="27" y1="396.5" x2="28.24" y2="402.88" stroke="#222" stroke-width="0.8"/>
<line x1="27" y1="396.5" x2="25.76" y2="402.88" stroke="#222" stroke-width="0.8"/>
<line x1="27" y1="478.2" x2="25.76" y2="471.82" stroke="#222" stroke-width="0.8"/>
<line x1="27" y1="478.2" x2="28.24" y2="471.82" stroke="#222" stroke-width="0.8"/>
<text x="26" y="437.35" font-family="&quot;Liberation Serif&quot;, serif" font-size="12" text-anchor="middle" fill="#303030" transform="rotate(-90 26 437.35)" >40</text>
<line x1="89.2" y1="378.7" x2="89.2" y2="449.1" stroke="#222" stroke-width="0.9"/>
<line x1="95.8" y1="378.7" x2="95.8" y2="425.5" stroke="#222" stroke-width="0.9"/>
<line x1="74.8" y1="380.6" x2="109.5" y2="380.6" stroke="#222" stroke-width="0.8"/>
<line x1="89.2" y1="380.6" x2="82.82" y2="381.84" stroke="#222" stroke-width="0.8"/>
<line x1="89.2" y1="380.6" x2="82.82" y2="379.36" stroke="#222" stroke-width="0.8"/>
<line x1="95.8" y1="380.6" x2="102.18" y2="379.36" stroke="#222" stroke-width="0.8"/>
<line x1="95.8" y1="380.6" x2="102.18" y2="381.84" stroke="#222" stroke-width="0.8"/>
<text x="92.5" y="377.8" font-family="&quot;Liberation Serif&quot;, serif" font-size="13" text-anchor="middle" fill="#111" >3.5</text>
<line x1="126.1" y1="390" x2="126.1" y2="425.5" stroke="#222" stroke-width="0.9"/>
<line x1="95.8" y1="394" x2="126.1" y2="394" stroke="#222" stroke-width="0.8"/>
<line x1="95.8" y1="394" x2="102.18" y2="392.76" stroke="#222" stroke-width="0.8"/>
<line x1="95.8" y1="394" x2="102.18" y2="395.24" stroke="#222" stroke-width="0.8"/>
<line x1="126.1" y1="394" x2="119.72" y2="395.24" stroke="#222" stroke-width="0.8"/>
<line x1="126.1" y1="394" x2="119.72" y2="392.76" stroke="#222" stroke-width="0.8"/>
<text x="110.94999999999999" y="392.5" font-family="&quot;Liberation Serif&quot;, serif" font-size="12" text-anchor="middle" fill="#303030" >15</text>
<path d="M95.8,401.3 C104,402 112,405 118.4,411.8 C122.5,416 125,421 126.1,425.5" fill="none" stroke="#222" stroke-width="0.9" />
<line x1="95.8" y1="425.5" x2="127.3" y2="425.5" stroke="#222" stroke-width="0.9"/>
<line x1="49.5" y1="422.4" x2="77" y2="409.8" stroke="#222" stroke-width="0.8"/>
<line x1="48.7" y1="449.7" x2="81" y2="458.5" stroke="#222" stroke-width="0.8"/>
<path d="M65.6,407.4 Q86,436 68,464.2" fill="none" stroke="#222" stroke-width="0.8" />
<line x1="134.5" y1="370.6" x2="134.5" y2="399.7" stroke="#222" stroke-width="0.9"/>
<line x1="134.5" y1="378" x2="250" y2="378" stroke="#222" stroke-width="0.9"/>
<polygon points="134.5,378 140.0,376.4 140.0,379.6" fill="#111" stroke="none" stroke-width="0.9"/>
<text x="240.3" y="375.8" font-family="&quot;Liberation Sans&quot;, sans-serif" font-size="10" text-anchor="middle" fill="#444" textLength="5.6" lengthAdjust="spacingAndGlyphs">D</text>
<clipPath id="c12"><polygon points="182.3,392.4 196.8,392.4 198.7,388.4 215.3,388.4 215.3,422.3 212,425 197.6,425 197.6,421.5 182.3,421.5"/></clipPath>
<g clip-path="url(#c12)" stroke="#262626" stroke-width="0.85">
<line x1="146.1" y1="425" x2="182.7" y2="388.4"/>
<line x1="155.25" y1="425" x2="191.85" y2="388.4"/>
<line x1="164.4" y1="425" x2="201.0" y2="388.4"/>
<line x1="173.55" y1="425" x2="210.15" y2="388.4"/>
<line x1="182.7" y1="425" x2="219.3" y2="388.4"/>
<line x1="191.85" y1="425" x2="228.45" y2="388.4"/>
<line x1="201.0" y1="425" x2="237.6" y2="388.4"/>
<line x1="210.15" y1="425" x2="246.75" y2="388.4"/>
<line x1="219.3" y1="425" x2="255.9" y2="388.4"/>
</g>
<clipPath id="c13"><polygon points="165.3,429.4 197.6,429.4 197.6,425 212,425 215.3,427 215.3,448 212,450 197.6,450 197.6,446.2 165.3,446.2"/></clipPath>
<g clip-path="url(#c13)" stroke="#262626" stroke-width="0.85">
<line x1="135.5" y1="425" x2="160.5" y2="450"/>
<line x1="144.65" y1="425" x2="169.65" y2="450"/>
<line x1="153.8" y1="425" x2="178.8" y2="450"/>
<line x1="162.95" y1="425" x2="187.95" y2="450"/>
<line x1="172.1" y1="425" x2="197.1" y2="450"/>
<line x1="181.25" y1="425" x2="206.25" y2="450"/>
<line x1="190.4" y1="425" x2="215.4" y2="450"/>
<line x1="199.55" y1="425" x2="224.55" y2="450"/>
<line x1="208.7" y1="425" x2="233.7" y2="450"/>
<line x1="217.85" y1="425" x2="242.85" y2="450"/>
</g>
<clipPath id="c14"><polygon points="177.4,454.3 197.6,454.3 197.6,450 212,450 215.3,452.4 215.3,486.8 198.4,486.8 196.8,482.7 177.4,482.7"/></clipPath>
<g clip-path="url(#c14)" stroke="#262626" stroke-width="0.85">
<line x1="140.1" y1="486.8" x2="176.9" y2="450"/>
<line x1="149.25" y1="486.8" x2="186.05" y2="450"/>
<line x1="158.4" y1="486.8" x2="195.2" y2="450"/>
<line x1="167.55" y1="486.8" x2="204.35" y2="450"/>
<line x1="176.7" y1="486.8" x2="213.5" y2="450"/>
<line x1="185.85" y1="486.8" x2="222.65" y2="450"/>
<line x1="195.0" y1="486.8" x2="231.8" y2="450"/>
<line x1="204.15" y1="486.8" x2="240.95" y2="450"/>
<line x1="213.3" y1="486.8" x2="250.1" y2="450"/>
<line x1="222.45" y1="486.8" x2="259.25" y2="450"/>
</g>
<path d="M134.5,399.7 V388.4 H174.2 L176.3,392.4 H196.8 L198.7,388.4 H213.5 Q215.3,388.4 215.3,391" fill="none" stroke="#222" stroke-width="0.9" />
<path d="M134.5,399.7 C141,401.5 150,403 157,411 C161,416 163,421 163.7,424.7 L165.3,426.3 H173.6 L174.6,423.4 Q175,422 176.5,422" fill="none" stroke="#222" stroke-width="0.9" />
<line x1="169.7" y1="388.4" x2="169.7" y2="426.3" stroke="#222" stroke-width="0.9"/>
<line x1="182.3" y1="392.4" x2="182.3" y2="421.5" stroke="#222" stroke-width="0.9"/>
<path d="M157.6,448.5 C157,456 154.5,461 152,464 C146,470 138,473 129.7,474.7 L126.5,477.1 L118.4,479.5 V487.1 H169.4 L171.8,482.7 H196.8 L198.4,486.8 H215.3" fill="none" stroke="#222" stroke-width="0.9" />
<path d="M157.6,448.5 H168.6 L169.8,453 Q170.2,454.3 171.8,454.3" fill="none" stroke="#222" stroke-width="0.9" />
<line x1="163.7" y1="448.5" x2="163.7" y2="487.1" stroke="#222" stroke-width="0.9"/>
<line x1="177.4" y1="454.3" x2="177.4" y2="482.7" stroke="#222" stroke-width="0.9"/>
<path d="M176.5,422 H196.4 Q198,422 198,423.6 V427.79999999999995 Q198,429.4 196.4,429.4 H176.5" fill="#fff" stroke="#222" stroke-width="0.9" />
<path d="M170,446.2 H196.4 Q198,446.2 198,447.8 V452.7 Q198,454.3 196.4,454.3 H170" fill="#fff" stroke="#222" stroke-width="0.9" />
<path d="M127.3,425.5 H148.7 V449.7 H127.3 Z" fill="none" stroke="#222" stroke-width="0.9" />
<path d="M148.7,425.5 H155.6 V429.4 H177" fill="none" stroke="#222" stroke-width="0.9" />
<path d="M148.7,449.7 H155.6 V446.2 H171" fill="none" stroke="#222" stroke-width="0.9" />
<line x1="165.3" y1="429.4" x2="165.3" y2="446.2" stroke="#222" stroke-width="0.9"/>
<line x1="198" y1="425.2" x2="212" y2="425.2" stroke="#222" stroke-width="0.9"/>
<line x1="212" y1="425.2" x2="215.3" y2="422.3" stroke="#222" stroke-width="0.9"/>
<line x1="198" y1="450" x2="212" y2="450" stroke="#222" stroke-width="0.9"/>
<line x1="212" y1="450" x2="215.3" y2="452.4" stroke="#222" stroke-width="0.9"/>
<line x1="215.3" y1="388.4" x2="215.3" y2="487" stroke="#222" stroke-width="0.9"/>
<line x1="215.3" y1="388.4" x2="247.6" y2="388.4" stroke="#222" stroke-width="0.8"/>
<line x1="215.3" y1="391.1" x2="247.6" y2="391.1" stroke="#222" stroke-width="0.8"/>
<line x1="215.3" y1="422.3" x2="247.6" y2="422.3" stroke="#222" stroke-width="0.8"/>
<line x1="215.3" y1="425.5" x2="247.6" y2="425.5" stroke="#222" stroke-width="0.8"/>
<line x1="215.3" y1="427.9" x2="247.6" y2="427.9" stroke="#222" stroke-width="0.8"/>
<line x1="215.3" y1="447" x2="247.6" y2="447" stroke="#222" stroke-width="0.8"/>
<line x1="215.3" y1="449.7" x2="247.6" y2="449.7" stroke="#222" stroke-width="0.8"/>
<line x1="215.3" y1="452.4" x2="247.6" y2="452.4" stroke="#222" stroke-width="0.8"/>
<line x1="215.3" y1="483.5" x2="247.6" y2="483.5" stroke="#222" stroke-width="0.8"/>
<line x1="215.3" y1="486.8" x2="247.6" y2="486.8" stroke="#222" stroke-width="0.8"/>
<line x1="247.6" y1="383.5" x2="247.6" y2="491.6" stroke="#222" stroke-width="0.9"/>
<text x="152.5" y="402" font-family="&quot;Liberation Sans&quot;, sans-serif" font-size="13" text-anchor="start" fill="#111" >05</text>
<text x="132.7" y="441.6" font-family="&quot;Liberation Sans&quot;, sans-serif" font-size="13" text-anchor="start" fill="#111" >03</text>
<text x="148" y="478.7" font-family="&quot;Liberation Sans&quot;, sans-serif" font-size="13" text-anchor="start" fill="#111" >02</text>
<path d="M275.5,398.6 H472.6 V425.3 H353.7 V448.1 H472.6 V474.7 H276.6 Q295,436 275.5,398.6 Z" fill="#fcf797" stroke="#4a4a38" stroke-width="0.9" />
<line x1="265.3" y1="398.6" x2="472.6" y2="398.6" stroke="#55543c" stroke-width="1.3"/>
<line x1="265.3" y1="474.7" x2="472.6" y2="474.7" stroke="#666" stroke-width="1.6"/>
<line x1="269" y1="398.6" x2="269" y2="474.7" stroke="#222" stroke-width="0.8"/>
<line x1="269" y1="398.6" x2="270.24" y2="404.98" stroke="#222" stroke-width="0.8"/>
<line x1="269" y1="398.6" x2="267.76" y2="404.98" stroke="#222" stroke-width="0.8"/>
<line x1="269" y1="474.7" x2="267.76" y2="468.32" stroke="#222" stroke-width="0.8"/>
<line x1="269" y1="474.7" x2="270.24" y2="468.32" stroke="#222" stroke-width="0.8"/>
<text x="267.5" y="436.65" font-family="&quot;Liberation Serif&quot;, serif" font-size="12" text-anchor="middle" fill="#303030" transform="rotate(-90 267.5 436.65)" >40</text>
<line x1="345.3" y1="425.3" x2="345.3" y2="448.1" stroke="#222" stroke-width="0.8"/>
<line x1="345.3" y1="425.3" x2="346.54" y2="431.68" stroke="#222" stroke-width="0.8"/>
<line x1="345.3" y1="425.3" x2="344.06" y2="431.68" stroke="#222" stroke-width="0.8"/>
<line x1="345.3" y1="448.1" x2="344.06" y2="441.72" stroke="#222" stroke-width="0.8"/>
<line x1="345.3" y1="448.1" x2="346.54" y2="441.72" stroke="#222" stroke-width="0.8"/>
<text x="343.5" y="436.70000000000005" font-family="&quot;Liberation Serif&quot;, serif" font-size="11.5" text-anchor="middle" fill="#303030" transform="rotate(-90 343.5 436.70000000000005)" >12</text>
<line x1="342" y1="425.3" x2="353.7" y2="425.3" stroke="#222" stroke-width="0.9"/>
<line x1="342" y1="448.1" x2="353.7" y2="448.1" stroke="#222" stroke-width="0.9"/>
<line x1="340.5" y1="404.4" x2="422" y2="424.5" stroke="#222" stroke-width="0.8"/>
<line x1="291.6" y1="409.8" x2="357.7" y2="425.3" stroke="#222" stroke-width="0.8"/>
<line x1="291.6" y1="468" x2="359.4" y2="448.5" stroke="#222" stroke-width="0.8"/>
<line x1="369" y1="471" x2="419" y2="448.5" stroke="#222" stroke-width="0.8"/>
<line x1="426.3" y1="386.3" x2="426.3" y2="448" stroke="#222" stroke-width="0.9"/>
<line x1="426.3" y1="390" x2="607.9" y2="390" stroke="#222" stroke-width="0.9"/>
<polygon points="426.3,390 431.8,388.4 431.8,391.6" fill="#111" stroke="none" stroke-width="0.9"/>
<text x="595.3" y="388" font-family="&quot;Liberation Sans&quot;, sans-serif" font-size="10" text-anchor="middle" fill="#444" textLength="5.6" lengthAdjust="spacingAndGlyphs">D</text>
<clipPath id="c15"><polygon points="483.5,428.2 553.9,428.2 556.8,425.3 572.9,425.3 572.9,448.4 556.8,448.4 553.9,445.2 483.5,445.2"/></clipPath>
<g clip-path="url(#c15)" stroke="#262626" stroke-width="0.85">
<line x1="456.8" y1="448.4" x2="479.9" y2="425.3"/>
<line x1="465.3" y1="448.4" x2="488.4" y2="425.3"/>
<line x1="473.8" y1="448.4" x2="496.9" y2="425.3"/>
<line x1="482.3" y1="448.4" x2="505.4" y2="425.3"/>
<line x1="490.8" y1="448.4" x2="513.9" y2="425.3"/>
<line x1="499.3" y1="448.4" x2="522.4" y2="425.3"/>
<line x1="507.8" y1="448.4" x2="530.9" y2="425.3"/>
<line x1="516.3" y1="448.4" x2="539.4" y2="425.3"/>
<line x1="524.8" y1="448.4" x2="547.9" y2="425.3"/>
<line x1="533.3" y1="448.4" x2="556.4" y2="425.3"/>
<line x1="541.8" y1="448.4" x2="564.9" y2="425.3"/>
<line x1="550.3" y1="448.4" x2="573.4" y2="425.3"/>
<line x1="558.8" y1="448.4" x2="581.9" y2="425.3"/>
<line x1="567.3" y1="448.4" x2="590.4" y2="425.3"/>
<line x1="575.8" y1="448.4" x2="598.9" y2="425.3"/>
</g>
<line x1="455.6" y1="425.3" x2="455.6" y2="448.1" stroke="#222" stroke-width="0.9"/>
<path d="M455.6,425.3 H470.2 L472.6,428.2 H553.9 L556.8,425.3 H572.9" fill="none" stroke="#222" stroke-width="0.9" />
<path d="M455.6,448.1 H470.2 L472.6,445.2 H553.9 L556.8,448.4 H572.9" fill="none" stroke="#222" stroke-width="0.9" />
<line x1="483.5" y1="428.2" x2="483.5" y2="445.2" stroke="#222" stroke-width="0.9"/>
<line x1="572.9" y1="404" x2="572.9" y2="448.4" stroke="#222" stroke-width="0.9"/>
<line x1="572.9" y1="425.3" x2="602.7" y2="425.3" stroke="#222" stroke-width="0.8"/>
<line x1="572.9" y1="428.2" x2="602.7" y2="428.2" stroke="#222" stroke-width="0.8"/>
<line x1="572.9" y1="445.2" x2="602.7" y2="445.2" stroke="#222" stroke-width="0.8"/>
<line x1="572.9" y1="448.4" x2="602.7" y2="448.4" stroke="#222" stroke-width="0.8"/>
<line x1="602.7" y1="416" x2="602.7" y2="454" stroke="#222" stroke-width="0.9"/>
<line x1="572.9" y1="408" x2="604.7" y2="408" stroke="#222" stroke-width="0.9"/>
<polygon points="572.9,408 578.4,406.4 578.4,409.6" fill="#111" stroke="none" stroke-width="0.9"/>
<text x="592.6" y="405.8" font-family="&quot;Liberation Sans&quot;, sans-serif" font-size="10" text-anchor="middle" fill="#444" >d</text>
<text x="436" y="442.4" font-family="&quot;Liberation Sans&quot;, sans-serif" font-size="13" text-anchor="start" fill="#111" >09</text>
</svg>
</body>
</html>
